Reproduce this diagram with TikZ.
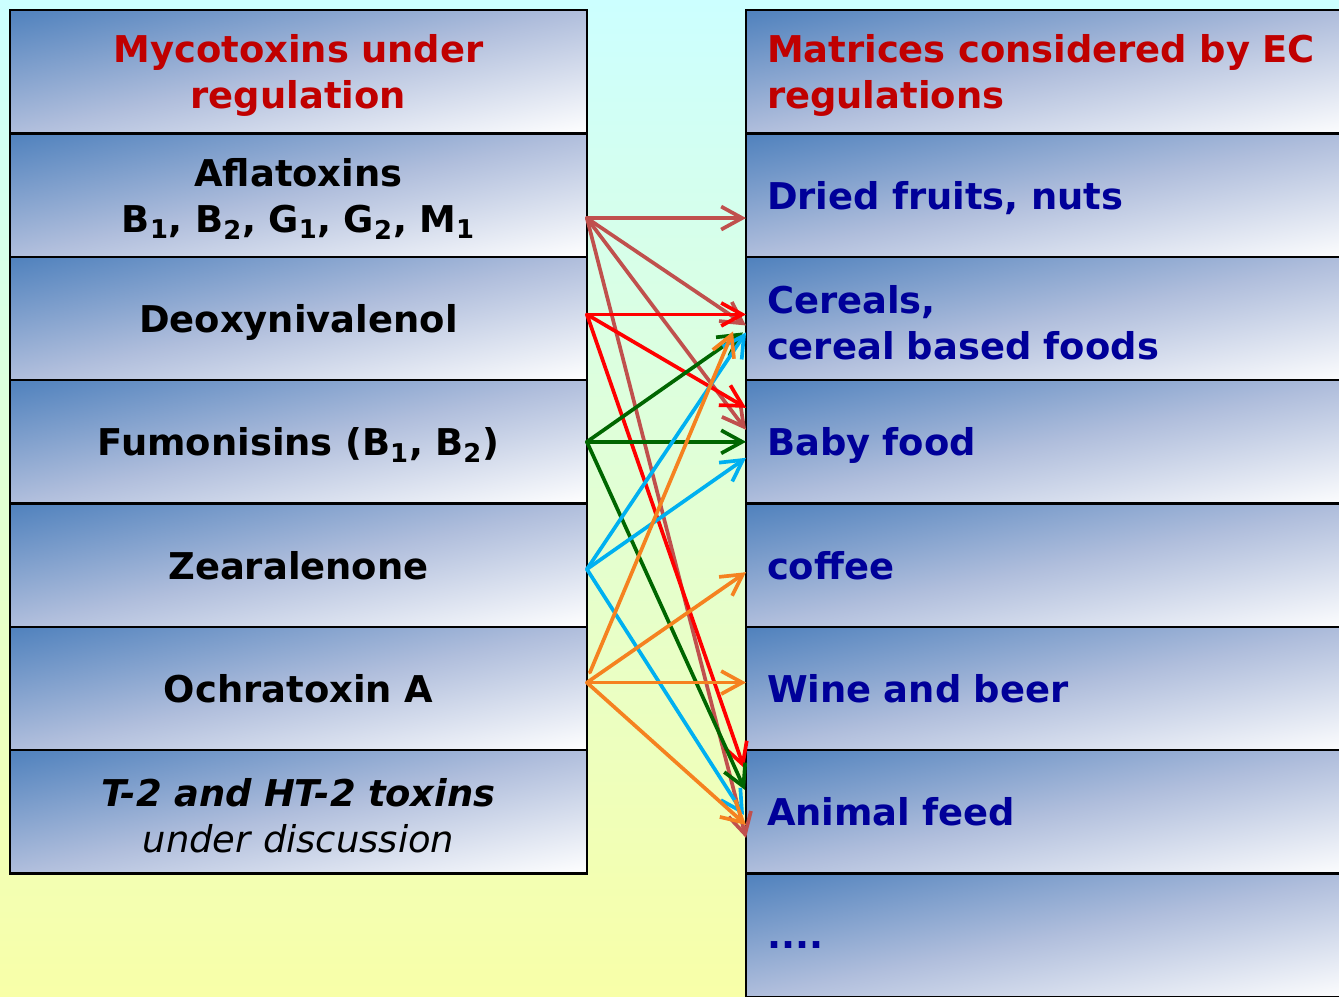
\documentclass[tikz,border=0pt]{standalone}
\usepackage{fontspec}
\setmainfont{DejaVu Sans}
\usepackage{tikz}
\usetikzlibrary{arrows.meta,positioning,calc}
\usepackage{xcolor}

\definecolor{headred}{HTML}{C00000}
\definecolor{foodblue}{HTML}{000099}
\definecolor{bgtop}{HTML}{CCFFFF}
\definecolor{bgbot}{HTML}{F8FFA8}
\definecolor{aflcol}{HTML}{C0504D}
\definecolor{deocol}{HTML}{FF0000}
\definecolor{fumcol}{HTML}{006600}
\definecolor{zeacol}{HTML}{00B0F0}
\definecolor{ochcol}{HTML}{F58220}

% blue (4F81BD) in the upper left corner, greyish blue (B0BEDC) halfway, white in the lower right one
\pgfdeclarefunctionalshading{boxshade}{\pgfpoint{-50bp}{-50bp}}{\pgfpoint{50bp}{50bp}}{}{
  sub 50 add 100 div
  dup 0 lt {pop 0} if dup 1 gt {pop 1} if
  dup 0.5 lt
  {2 mul dup dup 0.122 mul 0.741 add 3 1 roll 0.239 mul 0.506 add 3 1 roll 0.380 mul 0.310 add 3 1 roll}
  {0.5 sub 2 mul dup dup 0.137 mul 0.863 add 3 1 roll 0.255 mul 0.745 add 3 1 roll 0.310 mul 0.690 add 3 1 roll}
  ifelse
}

\begin{document}
\begin{tikzpicture}[x=0.02cm,y=-0.02cm,>={Straight Barb[length=4.2mm,width=4.6mm]},line cap=round,
  cell/.style={draw=black,line width=1.4pt,shade,shading=boxshade,
    minimum height=2.468cm,inner ysep=0pt,outer sep=0pt,font=\bfseries\fontsize{21}{26}\selectfont,
    execute at end node={\endgraf\vspace*{-0.16cm}}},
  toxin/.style={cell,text width=11.14cm,inner xsep=0.2cm,align=center},
  food/.style={cell,text width=11.5cm,inner xsep=0.42cm,align=left,text=foodblue},
  link/.style={->,line width=2.1pt}]
\useasboundingbox (0,0) rectangle (1339,997);
\clip (0,0) rectangle (1339,997);
\shade[top color=bgtop,bottom color=bgbot] (0,0) rectangle (1339,997);

% mycotoxins
\node[toxin,anchor=north west,text=headred] (lhead) at (10,10) {Mycotoxins under\\regulation};
\node[toxin,below=0pt of lhead] (afl) {Aflatoxins\\B\textsubscript{1}, B\textsubscript{2}, G\textsubscript{1}, G\textsubscript{2}, M\textsubscript{1}};
\node[toxin,below=0pt of afl] (deo) {Deoxynivalenol};
\node[toxin,below=0pt of deo] (fum) {Fumonisins (B\textsubscript{1}, B\textsubscript{2})};
\node[toxin,below=0pt of fum] (zea) {Zearalenone};
\node[toxin,below=0pt of zea] (och) {Ochratoxin A};
\node[toxin,below=0pt of och] (t2) {\textit{T-2 and HT-2 toxins}\\\mdseries\itshape under discussion};

% matrices
\node[food,anchor=north west,text=headred] (rhead) at (746,10) {Matrices considered by EC\\regulations};
\node[food,below=0pt of rhead] (dry) {Dried fruits, nuts};
\node[food,below=0pt of dry] (cer) {Cereals,\\cereal based foods};
\node[food,below=0pt of cer] (baby) {Baby food};
\node[food,below=0pt of baby] (cof) {coffee};
\node[food,below=0pt of cof] (wine) {Wine and beer};
\node[food,below=0pt of wine] (feed) {Animal feed};
\node[food,below=0pt of feed] (more) {....\strut};

% start points
\coordinate (sa) at ($(afl.east)+(0,23)$);
\coordinate (sd) at ($(deo.east)+(0,-4)$);
\coordinate (sf) at (fum.east);
\coordinate (sz) at ($(zea.east)+(0,4)$);
\coordinate (so) at ($(och.east)+(0,-6)$);

% links
\draw[link,aflcol] (sa) -- ($(dry.west)+(0,23)$);
\draw[link,aflcol] (sa) -- ($(cer.west)+(0,7)$);
\draw[link,aflcol] (sa) -- ($(baby.west)+(0,-12)$);
\draw[link,aflcol] (sa) -- ($(feed.west)+(0,26)$);
\draw[link,deocol] (sd) -- ($(cer.west)+(0,-4)$);
\draw[link,deocol] (sd) -- ($(baby.west)+(0,-34)$);
\draw[link,deocol] (sd) -- ($(feed.west)+(-2,-44)$);
\draw[link,fumcol] (sf) -- ($(cer.west)+(-3,14)$);
\draw[link,fumcol] (sf) -- (baby.west);
\draw[link,fumcol] (sf) -- ($(feed.west)+(-1,-22)$);
\draw[link,zeacol] (sz) -- ($(cer.west)+(0,14)$);
\draw[link,zeacol] (sz) -- ($(baby.west)+(0,16)$);
\draw[link,zeacol] (sz) -- ($(feed.west)+(-2,3)$);
\draw[link,ochcol] ($(och.east)+(3,-16)$) -- ($(cer.west)+(-13,13)$);
\draw[link,ochcol] (so) -- ($(cof.west)+(0,7)$);
\draw[link,ochcol] (so) -- ($(wine.west)+(0,-6)$);
\draw[link,ochcol] (so) -- ($(feed.west)+(0,13)$);
\end{tikzpicture}
\end{document}
